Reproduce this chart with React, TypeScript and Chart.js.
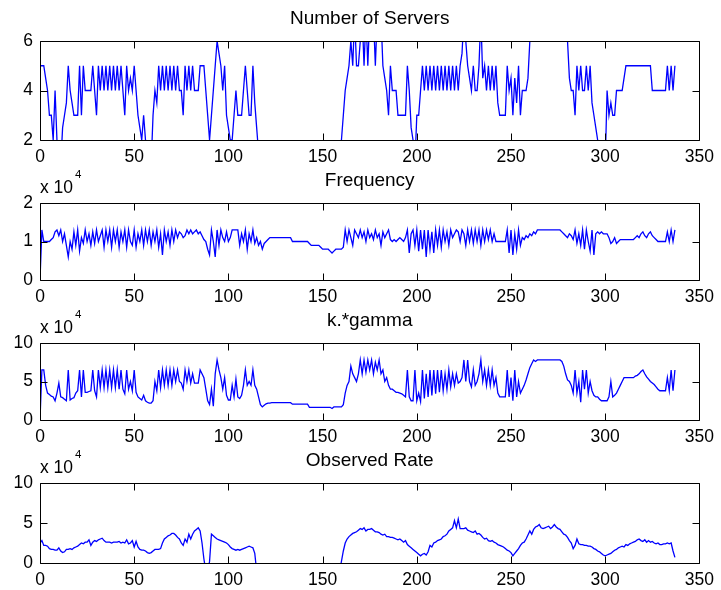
import React, { useEffect, useRef } from "react";
import { Chart, registerables } from "chart.js";

Chart.register(...registerables);

// ---------- data ----------
const xTickValues = [0, 50, 100, 150, 200, 250, 300, 350];

const servers = [
  5, 5, 5, 4.5, 4, 3, 3, 2, 4, 2,
  1, 1, 2.5, 3, 3.5, 5, 4, 3.5, 3, 3,
  3, 5, 3, 5, 4, 4, 4, 4, 5, 4,
  3, 5, 4, 5, 4, 5, 4, 5, 4, 5,
  4, 5, 4, 5, 4, 3, 5, 4, 4.5, 4,
  5, 4, 3, 2.5, 2, 3, 2, 1, 1, 1,
  3, 4, 3.5, 5, 4, 5, 4, 5, 4, 5,
  4, 5, 4, 5, 4, 4, 3, 5, 4, 5,
  4, 5, 4, 4, 4, 5, 5, 5, 4, 3,
  2, 3, 4, 5, 6, 5.5, 5, 4, 5, 3,
  2.5, 2, 2, 3, 4, 3, 3, 3, 4, 5,
  4, 3, 3, 5, 3.5, 2.5, 1.5, 1, 1, 1,
  1, 1, 1, 1, 1, 1, 1, 1, 1, 1,
  1, 1, 1, 1, 1, 1, 1, 1, 1, 1,
  1, 1, 1, 1, 1, 1, 1, 1, 1, 1,
  1, 1, 1, 1, 1, 1, 1, 1, 1, 1,
  2, 3, 4, 4.5, 5, 6, 5, 7, 5, 5,
  6, 7, 5, 7, 5, 7, 6, 7, 5, 7,
  6, 7, 5, 4.5, 4, 3, 5, 4, 4, 4,
  3, 3, 3, 3, 3, 5, 4, 2.5, 2, 1,
  3, 3, 4, 5, 4, 5, 4, 5, 4, 5,
  4, 5, 4, 5, 4, 5, 4, 5, 4, 5,
  4, 5, 4, 5, 5.5, 7, 6, 5, 4.5, 4,
  5, 4, 4, 5, 7, 4.5, 5, 4, 5, 4,
  5, 4, 5, 3.5, 3, 3, 3, 3, 5, 4,
  4.5, 3, 4.5, 3.5, 5, 3, 4, 4, 4, 4.5,
  6, 7, 7, 7, 7, 7, 7, 7, 7, 7,
  7, 7, 7, 7, 7, 7, 7, 7, 7, 7,
  6, 4.5, 4, 4, 3, 5, 4, 5, 4, 4,
  5, 4, 5, 3.5, 3, 2.5, 2, 1, 1, 1,
  1, 4, 3, 3.5, 3, 3, 4, 4, 4, 4,
  4.5, 5, 5, 5, 5, 5, 5, 5, 5, 5,
  5, 5, 5, 5, 5, 4, 4, 4, 4, 4,
  4, 4, 4, 5, 4, 5, 4, 5,
];

// values in units of 10^4
const frequency = [
  0, 1.3, 1.0, 1.0, 1.0, 1.0, 1.05, 1.1, 1.25, 1.3,
  1.15, 1.3, 1.0, 1.2, 0.9, 0.6, 1.0, 0.8, 1.25, 0.9,
  1.3, 0.75, 1.1, 0.95, 1.3, 1.0, 1.2, 0.9, 1.25, 0.95,
  1.3, 1.0, 1.15, 1.3, 0.85, 1.3, 1.0, 1.3, 0.85, 1.3,
  1.0, 1.3, 0.85, 1.25, 1.0, 1.3, 0.85, 1.3, 1.0, 0.9,
  1.3, 0.85, 1.2, 1.0, 1.3, 0.9, 1.3, 1.0, 1.3, 0.9,
  1.25, 1.0, 1.3, 0.85, 1.2, 0.65, 1.3, 1.0, 1.25, 0.9,
  1.3, 1.0, 1.3, 1.1, 1.25, 1.2, 1.1, 1.15, 1.3, 1.2,
  1.3, 1.2, 1.25, 1.3, 1.2, 1.25, 1.15, 1.05, 1.0, 0.8,
  0.65, 1.3, 1.0, 0.6, 1.3, 0.9, 1.3, 1.1, 1.0, 1.25,
  1.0, 1.1, 1.3, 1.3, 1.3, 1.3, 0.9, 1.2, 1.0, 1.3,
  0.8, 1.2, 1.0, 1.3, 0.95, 1.1, 0.9, 1.0, 0.8, 0.95,
  1.0, 1.05, 1.1, 1.1, 1.1, 1.1, 1.1, 1.1, 1.1, 1.1,
  1.1, 1.1, 1.1, 1.1, 1.0, 1.0, 1.0, 1.0, 1.0, 1.0,
  1.0, 1.0, 1.0, 0.95, 0.9, 0.9, 0.9, 0.9, 0.9, 0.85,
  0.8, 0.8, 0.8, 0.8, 0.75, 0.7, 0.75, 0.8, 0.8, 0.8,
  0.8, 0.85, 1.3, 1.0, 1.3, 1.1, 0.9, 1.3, 1.2, 1.1,
  1.3, 1.1, 1.25, 1.0, 1.3, 1.1, 1.2, 1.05, 1.3, 1.1,
  1.2, 0.9, 1.25, 1.1, 1.2, 1.3, 1.05, 1.0, 1.05, 1.0,
  1.05, 1.1, 1.05, 1.0, 1.1, 1.3, 0.7, 1.2, 1.3, 0.9,
  1.3, 0.75, 1.3, 0.8, 1.3, 0.6, 1.3, 0.8, 1.25, 0.7,
  1.3, 0.9, 1.3, 0.85, 1.3, 1.0, 1.25, 0.9, 1.3, 1.1,
  1.2, 1.3, 1.25, 1.0, 1.3, 1.2, 0.9, 1.3, 1.0, 1.3,
  0.95, 1.3, 1.0, 1.3, 0.9, 1.3, 1.0, 1.3, 1.05, 1.3,
  1.0, 1.2, 1.0, 1.0, 1.0, 1.0, 1.0, 1.0, 1.3, 0.7,
  1.3, 0.65, 1.2, 0.8, 1.3, 0.9, 1.1, 1.05, 1.15, 1.1,
  1.2, 1.15, 1.25, 1.2, 1.3, 1.3, 1.3, 1.3, 1.3, 1.3,
  1.3, 1.3, 1.3, 1.3, 1.3, 1.3, 1.3, 1.25, 1.2, 1.15,
  1.1, 1.2, 1.15, 1.05, 1.3, 0.95, 1.2, 0.9, 1.3, 0.8,
  1.3, 1.0, 0.75, 1.3, 0.65, 1.2, 1.25, 1.2, 1.25, 1.2,
  1.2, 1.2, 1.1, 0.95, 1.0, 1.1, 0.95, 1.0, 1.05, 1.05,
  1.05, 1.05, 1.05, 1.05, 1.05, 1.05, 1.1, 1.15, 1.1, 1.2,
  1.25, 1.15, 1.1, 1.2, 1.25, 1.15, 1.1, 1.05, 1.0, 1.0,
  1.0, 1.0, 1.0, 1.25, 1.0, 1.3, 1.0, 1.3,
];

// values in units of 10^4
const kGamma = [
  0, 6.5, 6.5, 4.5, 3.5, 3.3, 3.1, 3.0, 2.5, 3.5,
  4.8, 3.0, 2.9, 2.7, 2.5, 6.5, 2.6, 2.8, 2.9, 3.5,
  3.8, 6.5, 3.0, 6.5, 3.6, 3.6, 3.7, 3.8, 6.5, 3.8,
  3.0, 6.5, 4.2, 6.5, 4.2, 6.5, 4.2, 6.5, 4.2, 6.5,
  4.2, 6.5, 4.0, 6.5, 4.0, 3.4, 6.5, 4.0, 5.0, 3.8,
  6.5, 3.6, 3.0, 2.8, 2.6, 3.2, 2.5, 2.3, 2.2, 2.2,
  2.5, 5.0, 3.8, 6.5, 4.2, 6.5, 4.5, 6.5, 4.5, 6.5,
  4.5, 6.5, 5.0, 6.5, 5.0, 4.8, 4.0, 6.5, 5.0, 6.5,
  4.8, 6.0, 4.8, 4.8, 4.8, 6.5, 6.0, 5.5, 4.0, 2.5,
  2.0, 4.0, 1.8, 6.0, 7.8, 6.5, 5.5, 4.0, 5.5, 3.2,
  2.6, 2.6, 4.5, 3.0, 5.3, 3.0, 2.8, 3.2, 4.5, 6.5,
  4.5, 5.0, 4.5, 6.5, 4.5, 4.0, 3.0, 2.0, 1.7, 1.9,
  2.1, 2.2, 2.2, 2.25, 2.25, 2.25, 2.25, 2.25, 2.25, 2.25,
  2.25, 2.25, 2.25, 2.25, 2.05, 2.05, 2.05, 2.05, 2.05, 2.05,
  2.05, 2.05, 2.05, 1.65, 1.65, 1.65, 1.65, 1.65, 1.65, 1.65,
  1.65, 1.65, 1.65, 1.65, 1.65, 1.5, 1.7, 1.7, 1.7, 1.7,
  1.7, 2.0, 3.5, 4.5, 5.0, 7.0, 6.0, 5.5, 5.0, 6.0,
  7.8, 6.0, 7.8, 6.2, 7.8, 6.5, 7.8, 6.0, 7.5, 6.5,
  7.8, 6.0, 6.5, 5.0, 5.5, 4.5, 4.0, 4.0, 3.8, 3.6,
  3.6, 3.5, 3.4, 3.2, 3.0, 6.5, 3.0, 2.5, 2.5, 6.5,
  2.5, 3.5, 2.4, 6.5, 2.8, 6.0, 3.0, 6.5, 3.2, 6.5,
  3.4, 6.5, 3.6, 6.5, 3.8, 6.0, 4.0, 6.5, 4.3, 6.0,
  4.5, 6.0, 4.8, 5.0, 5.5, 7.8, 5.0, 7.8, 5.0, 4.3,
  6.5, 4.5, 5.0, 6.0, 7.8, 5.0, 6.5, 4.5, 6.5, 4.5,
  6.5, 4.5, 5.5, 3.5, 3.0, 3.0, 3.0, 3.0, 6.5, 3.0,
  5.5, 2.5, 6.5, 3.0, 5.0, 3.5, 4.0, 4.5, 5.2, 6.0,
  6.8, 7.3, 7.8, 7.6, 7.8, 7.8, 7.8, 7.8, 7.8, 7.8,
  7.8, 7.8, 7.8, 7.8, 7.8, 7.8, 7.8, 7.6, 7.0, 6.0,
  5.2, 5.0, 4.5, 3.5, 6.5, 3.5, 5.0, 2.3, 6.5, 4.0,
  6.5, 3.5, 5.0, 3.8, 3.2, 3.0, 3.0, 2.7, 2.5, 2.5,
  2.5, 2.5, 3.0, 5.0, 3.0, 3.2, 3.5, 4.0, 4.5, 5.0,
  5.5, 5.5, 5.5, 5.5, 5.5, 5.5, 5.7, 5.8, 6.0, 6.3,
  6.5, 6.0, 5.6, 5.3, 5.0, 4.8, 4.6, 4.3, 4.0, 3.8,
  3.8, 3.8, 3.8, 5.5, 3.8, 6.5, 3.8, 6.5,
];

// values in units of 10^4
const observedRate = [
  2.5, 2.8, 2.2, 2.2, 2.1, 1.8, 1.7, 1.7, 1.6, 1.6,
  1.9, 1.5, 1.3, 1.4, 1.7, 1.7, 1.8, 1.7, 1.9, 2.0,
  2.1, 2.3, 2.5, 2.4, 2.6, 2.6, 2.9, 2.2, 2.6, 2.8,
  2.7, 2.9, 3.0, 3.1, 2.8, 2.6, 2.6, 2.6, 2.5, 2.6,
  2.6, 2.6, 2.7, 2.5, 2.6, 2.5, 2.9, 2.4, 2.5, 2.8,
  2.0, 2.7, 2.0, 1.7, 1.6, 1.6, 1.5, 1.3, 1.2, 1.3,
  1.5, 1.7, 1.7, 1.7, 1.8, 2.5, 3.0, 3.2, 3.4, 3.5,
  3.7, 3.7, 3.5, 3.2, 3.0, 2.5, 2.2, 3.0, 2.6, 3.6,
  3.0, 3.6, 4.0, 4.2, 4.4, 4.0, 2.5, 0.5, -1, -1,
  0.2, 3.6, 3.4, 3.2, 3.0, 2.9, 2.8, 2.7, 2.6, 2.5,
  2.3, 2.0, 1.8, 1.7, 1.6, 1.7, 1.6, 1.7, 1.8, 1.9,
  2.0, 2.1, 2.0, 1.9, 1.2, -1, -1, -1, -1, -1,
  -1, -1, -1, -1, -1, -1, -1, -1, -1, -1,
  -1, -1, -1, -1, -1, -1, -1, -1, -1, -1,
  -1, -1, -1, -1, -1, -1, -1, -1, -1, -1,
  -1, -1, -1, -1, -1, -1, -1, -1, -1, -1,
  0.2, 1.5, 2.5, 3.0, 3.3, 3.5, 3.7, 3.8, 3.9, 4.1,
  4.3, 4.2, 4.4, 4.0, 4.2, 4.2, 4.3, 4.1, 3.9, 3.9,
  3.8, 3.6, 3.5, 3.6, 3.3, 3.3, 3.2, 3.2, 3.1, 3.0,
  2.9, 3.0, 2.8, 2.6, 2.8, 2.3, 2.1, 1.9, 1.7, 1.5,
  1.3, 1.1, 0.9, 1.1, 1.2, 1.0, 1.4, 2.2, 2.0, 2.5,
  2.6, 2.8, 2.9, 3.0, 3.3, 3.4, 3.6, 4.0, 4.2, 4.4,
  5.3, 4.4, 5.5, 4.3, 4.3, 4.3, 4.4, 4.1, 4.0, 3.9,
  3.8, 4.0, 3.6, 3.7, 3.5, 3.2, 3.0, 3.1, 2.8, 2.7,
  2.8, 2.6, 2.5, 2.3, 2.2, 2.1, 2.0, 1.8, 1.6, 1.5,
  1.3, 0.9, 1.2, 1.5, 1.8, 2.2, 2.5, 2.6, 3.0, 3.5,
  4.0, 3.6, 4.2, 4.5, 4.6, 4.8, 4.4, 4.3, 4.4, 4.5,
  4.6, 4.3, 4.5, 4.8, 4.5, 4.3, 4.2, 3.9, 3.6, 3.5,
  3.2, 2.8, 2.5, 1.8, 2.2, 3.0, 2.4, 2.3, 2.3, 2.2,
  2.2, 2.1, 2.1, 2.0, 1.8, 1.7, 1.5, 1.4, 1.2, 1.0,
  0.9, 1.0, 1.1, 1.2, 1.4, 1.6, 1.7, 1.9, 2.0, 2.1,
  2.0, 2.3, 2.2, 2.4, 2.5, 2.6, 2.7, 2.9, 3.0, 2.8,
  2.7, 2.9, 2.6, 2.8, 2.6, 2.7, 2.5, 2.4, 2.5, 2.3,
  2.3, 2.4, 2.4, 2.5, 2.4, 2.5, 1.5, 0.7,
];

// ---------- layout ----------
const WIDTH = 721;
const FONT = '"Liberation Sans", Arial, Helvetica, sans-serif';
const TICK_SIZE = 17.5;
const TITLE_SIZE = 19;

type PanelSpec = {
  title: string;
  values: number[];
  yMin: number;
  yMax: number;
  yStep: number;
  exp: boolean;
  canvasTop: number;
  canvasHeight: number;
  plotTop: number;
  plotBottom: number;
};

const panels: PanelSpec[] = [
  { title: "Number of Servers", values: servers, yMin: 2, yMax: 6, yStep: 2, exp: false, canvasTop: 0, canvasHeight: 170, plotTop: 41, plotBottom: 140 },
  { title: "Frequency", values: frequency, yMin: 0, yMax: 2, yStep: 1, exp: true, canvasTop: 170, canvasHeight: 140, plotTop: 203, plotBottom: 280 },
  { title: "k.*gamma", values: kGamma, yMin: 0, yMax: 10, yStep: 5, exp: true, canvasTop: 310, canvasHeight: 140, plotTop: 343, plotBottom: 420 },
  { title: "Observed Rate", values: observedRate, yMin: 0, yMax: 10, yStep: 5, exp: true, canvasTop: 450, canvasHeight: 140, plotTop: 483, plotBottom: 563 },
];

const matlabAxes = {
  id: "matlabAxes",
  afterDraw(chart: any, _args: any, opts: any) {
    const { ctx, chartArea: a } = chart;
    const xs = chart.scales.x;
    const ys = chart.scales.y;
    const L = Math.round(a.left) + 0.5;
    const R = Math.round(a.right) + 0.5;
    const T = Math.round(a.top) + 0.5;
    const B = Math.round(a.bottom) + 0.5;
    const len = 7;
    ctx.save();
    ctx.strokeStyle = "#000";
    ctx.lineWidth = 1;
    ctx.beginPath();
    ctx.moveTo(L, T);
    ctx.lineTo(R, T);
    ctx.lineTo(R, B);
    ctx.lineTo(L, B);
    ctx.closePath();
    for (const t of xs.ticks) {
      const px = Math.round(xs.getPixelForValue(t.value)) + 0.5;
      ctx.moveTo(px, B);
      ctx.lineTo(px, B - len);
      ctx.moveTo(px, T);
      ctx.lineTo(px, T + len);
    }
    for (const t of ys.ticks) {
      const py = Math.round(ys.getPixelForValue(t.value)) + 0.5;
      ctx.moveTo(L, py);
      ctx.lineTo(L + len, py);
      ctx.moveTo(R, py);
      ctx.lineTo(R - len, py);
    }
    ctx.stroke();

    ctx.fillStyle = "#000";
    ctx.textBaseline = "alphabetic";
    ctx.textAlign = "center";
    ctx.font = `${TITLE_SIZE}px ${FONT}`;
    ctx.fillText(opts.title, (a.left + a.right) / 2, a.top - 17);

    if (opts.exp) {
      ctx.textAlign = "left";
      ctx.font = `${TICK_SIZE}px ${FONT}`;
      const base = "x 10";
      ctx.fillText(base, a.left, a.top - 10);
      const w = ctx.measureText(base).width;
      ctx.font = `11.5px ${FONT}`;
      ctx.fillText("4", a.left + w + 2, a.top - 25);
    }
    ctx.restore();
  },
};

function Panel({ p }: { p: PanelSpec }) {
  const ref = useRef<HTMLCanvasElement | null>(null);
  useEffect(() => {
    if (!ref.current) return;
    const points = p.values.map((v, i) => ({ x: i, y: v }));
    const chart = new Chart(ref.current, {
      type: "line",
      data: {
        datasets: [
          {
            data: points,
            borderColor: "#0000ff",
            borderWidth: 1.3,
            pointRadius: 0,
            tension: 0,
            fill: false,
            clip: 0,
          } as any,
        ],
      },
      options: {
        responsive: false,
        animation: false,
        devicePixelRatio: 1,
        layout: {
          padding: { top: p.plotTop - p.canvasTop, right: 18, left: 0, bottom: 0 },
        },
        plugins: {
          legend: { display: false },
          tooltip: { enabled: false },
          title: { display: false },
          matlabAxes: { title: p.title, exp: p.exp },
        } as any,
        scales: {
          x: {
            type: "linear",
            min: 0,
            max: 350,
            afterFit: (s: any) => {
              s.height = p.canvasHeight - (p.plotBottom - p.canvasTop);
            },
            afterBuildTicks: (s: any) => {
              s.ticks = xTickValues.map((v) => ({ value: v }));
            },
            ticks: {
              autoSkip: false,
              maxRotation: 0,
              minRotation: 0,
              padding: 7,
              color: "#000",
              font: { family: FONT, size: TICK_SIZE },
            },
            grid: { display: false, drawTicks: false },
            border: { display: false },
          },
          y: {
            type: "linear",
            min: p.yMin,
            max: p.yMax,
            afterFit: (s: any) => {
              s.width = 40;
            },
            ticks: {
              stepSize: p.yStep,
              padding: 7,
              color: "#000",
              font: { family: FONT, size: TICK_SIZE },
            },
            grid: { display: false, drawTicks: false },
            border: { display: false },
          },
        },
      },
      plugins: [matlabAxes as any],
    });
    return () => chart.destroy();
  }, [p]);
  return (
    <canvas
      ref={ref}
      width={WIDTH}
      height={p.canvasHeight}
      style={{ position: "absolute", left: 0, top: p.canvasTop, width: WIDTH, height: p.canvasHeight, display: "block" }}
    />
  );
}

export default function App() {
  return (
    <div style={{ position: "absolute", left: 0, top: 0, width: WIDTH, height: 590, background: "#fff" }}>
      {panels.map((p) => (
        <Panel key={p.title} p={p} />
      ))}
    </div>
  );
}
